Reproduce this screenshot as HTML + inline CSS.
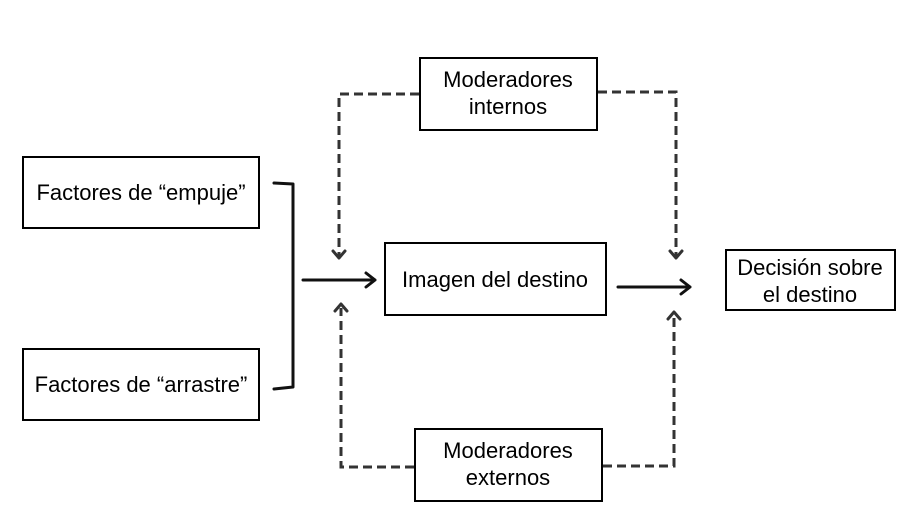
<!DOCTYPE html>
<html><head><meta charset="utf-8"><style>
html,body{margin:0;padding:0;background:#fff;}
svg{display:block;}
text{font-family:"Liberation Sans",Arial,sans-serif;font-size:22px;fill:#000;text-anchor:middle;}
</style></head><body>
<svg width="916" height="529" viewBox="0 0 916 529" xmlns="http://www.w3.org/2000/svg">
<g fill="none" stroke="#000" stroke-width="2">
<rect x="23" y="157" width="236" height="71"/>
<rect x="23" y="349" width="236" height="71"/>
<rect x="420" y="58" width="177" height="72"/>
<rect x="385" y="243" width="221" height="72"/>
<rect x="726" y="250" width="169" height="60"/>
<rect x="415" y="429" width="187" height="72"/>
</g>
<g fill="none" stroke="#111" stroke-width="3" stroke-linecap="round" stroke-linejoin="round">
<path d="M274 183 L293 184 L293 387 L274 389"/>
<path d="M303 280 L375 280 M366 273 L375 280 L366 287"/>
<path d="M618 287 L690 287 M681 280 L690 287 L681 294"/>
</g>
<g fill="none" stroke="#333" stroke-width="3" stroke-dasharray="9,5">
<path d="M419 94 L339 94 L339 256"/>
<path d="M598 92 L676 92 L676 256"/>
<path d="M414 467 L341 467 L341 308"/>
<path d="M603 466 L674 466 L674 316"/>
</g>
<g fill="none" stroke="#333" stroke-width="3" stroke-linecap="round" stroke-linejoin="round">
<path d="M333 251 L339 258 L345 251"/>
<path d="M670 251 L676 258 L682 251"/>
<path d="M335 311 L341 304 L347 311"/>
<path d="M668 319 L674 312 L680 319"/>
</g>
<text x="141" y="200">Factores de “empuje”</text>
<text x="141" y="392">Factores de “arrastre”</text>
<text x="508" y="87">Moderadores</text>
<text x="508" y="114">internos</text>
<text x="495" y="287">Imagen del destino</text>
<text x="810" y="275">Decisión sobre</text>
<text x="810" y="302">el destino</text>
<text x="508" y="458">Moderadores</text>
<text x="508" y="485">externos</text>
</svg>
</body></html>
